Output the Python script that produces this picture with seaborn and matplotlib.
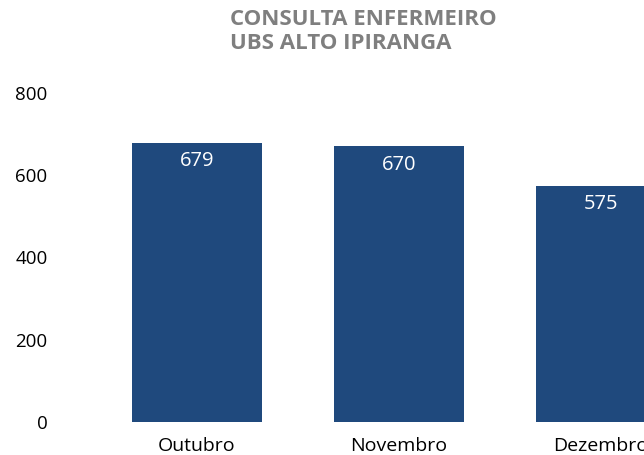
import matplotlib
matplotlib.use("Agg")
import matplotlib.pyplot as plt
import pandas as pd
import seaborn as sns

# chart data
months = ["Outubro", "Novembro", "Dezembro"]
consultas = [679, 670, 575]
y_ticks = [0, 200, 400, 600, 800]
title_lines = ["CONSULTA ENFERMEIRO", "UBS ALTO IPIRANGA"]

BAR_COLOR = "#1F497D"
TITLE_COLOR = "#7F7F7F"

sns.set_theme(style="white")
plt.rcParams["font.family"] = ["Open Sans", "DejaVu Sans"]

df = pd.DataFrame({"mes": months, "consultas": consultas})

fig = plt.figure(figsize=(6.44, 4.55), dpi=100)
# axes run past the right edge, the last bar is cut off like in the source
ax = fig.add_axes([60 / 644, 1 - 422 / 455, 584 / 644, 329 / 455])

sns.barplot(data=df, x="mes", y="consultas", color=BAR_COLOR,
            width=0.644, saturation=1, linewidth=0, ax=ax)

ax.set_xlim(-0.678, 2.213)
ax.set_ylim(0, 800)
ax.set_yticks(y_ticks)
ax.set_xlabel("")
ax.set_ylabel("")
sns.despine(ax=ax, left=True, bottom=True, top=True, right=True)
ax.tick_params(axis="y", labelsize=13.5, pad=9, length=0)
ax.tick_params(axis="x", labelsize=14, pad=11, length=0)
for lbl in ax.get_yticklabels() + ax.get_xticklabels():
    lbl.set_color("#000000")

# value labels inside the bar tops
for i, v in enumerate(consultas):
    ax.annotate(str(v), (i, v), xytext=(0, -13), textcoords="offset points",
                ha="center", va="center", color="white", fontsize=14.5,
                annotation_clip=False)

fig.text(230 / 644, 1 - 9 / 455, "\n".join(title_lines), ha="left", va="top",
         fontsize=16, fontweight="bold", color=TITLE_COLOR, linespacing=1.2)

fig.savefig("out.png", dpi=100)
